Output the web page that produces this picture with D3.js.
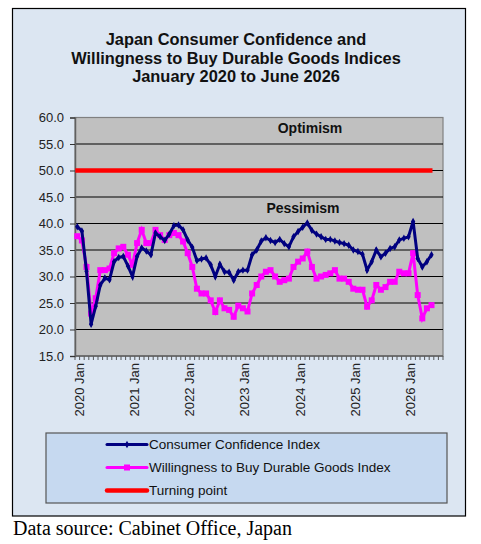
<!DOCTYPE html>
<html>
<head>
<meta charset="utf-8">
<script src="https://cdn.jsdelivr.net/npm/d3@7"></script>
<style>
body { margin: 0; background: #fff; }
</style>
</head>
<body>
<svg width="481" height="544" font-family="Arial, 'Liberation Sans', sans-serif"></svg>
<script>
// months Jan 2020 .. Jun 2026
var confidence = [39.4, 38.6, 31.0, 21.0, 24.4, 28.4, 29.7, 29.4, 32.8, 33.6, 33.8, 32.0,
  30.0, 33.8, 35.4, 34.8, 34.1, 38.2, 37.5, 36.8, 38.0, 39.6, 39.7, 38.8,
  36.9, 35.5, 33.0, 33.3, 33.5, 32.2, 30.0, 32.3, 30.9, 30.8, 29.3, 30.9,
  31.2, 31.2, 34.1, 35.0, 36.7, 37.3, 36.8, 36.4, 37.0, 36.2, 35.6, 37.5,
  38.5, 39.3, 40.1, 38.7, 38.0, 37.5, 37.0, 37.0, 36.7, 36.4, 36.2, 35.9,
  35.0, 34.7, 34.2, 31.2, 32.8, 35.0, 33.7, 34.4, 35.3, 35.6, 36.9, 37.2,
  37.5, 40.4, 33.4, 31.8, 32.8, 34.1];
var durables = [37.6, 36.8, 31.8, 23.0, 25.9, 31.2, 31.2, 31.5, 34.4, 35.3, 35.6, 34.1,
  32.2, 36.3, 38.8, 36.3, 36.3, 38.8, 37.8, 36.9, 37.8, 38.2, 37.8, 36.6,
  34.4, 31.8, 27.7, 26.8, 26.8, 25.5, 23.3, 25.5, 24.0, 23.7, 22.4, 24.5,
  24.0, 23.4, 26.8, 28.4, 30.0, 30.9, 31.2, 30.0, 29.0, 29.3, 29.6, 31.8,
  32.8, 33.4, 34.7, 31.8, 29.6, 30.0, 30.3, 30.6, 31.2, 29.6, 29.6, 29.0,
  27.7, 27.5, 27.5, 24.3, 25.5, 28.4, 27.5, 28.0, 29.0, 29.0, 30.9, 30.6,
  30.6, 34.4, 26.5, 22.1, 24.0, 24.6];
var turningPoint = 50;

var years = [2020, 2021, 2022, 2023, 2024, 2025, 2026];
var monthNames = ["Jan","Feb","Mar","Apr","May","Jun","Jul","Aug","Sep","Oct","Nov","Dec"];
var yTicks = [15, 20, 25, 30, 35, 40, 45, 50, 55, 60];

// category axis runs to Aug 2026
var months = [];
years.forEach(function(yr) {
  monthNames.forEach(function(m) { months.push(yr + " " + m); });
});
months = months.slice(0, 80);

var svg = d3.select("svg");

// outer panel
svg.append("rect")
  .attr("x", 12.5).attr("y", 8.5)
  .attr("width", 453).attr("height", 507.5)
  .attr("fill", "#dce6f2")
  .attr("stroke", "#000").attr("stroke-width", 1.2);

var titleLines = ["Japan Consumer Confidence and",
  "Willingness to Buy Durable Goods Indices",
  "January 2020 to June 2026"];
svg.selectAll(".title")
  .data(titleLines)
  .enter().append("text")
  .attr("x", 236)
  .attr("y", function(d, i) { return 45 + i * 18.5; })
  .attr("text-anchor", "middle")
  .attr("font-size", "16.4px")
  .attr("font-weight", "bold")
  .attr("fill", "#111")
  .text(function(d) { return d; });

var plotLeft = 75, plotRight = 443, plotTop = 117.5, plotBottom = 356;

var x = d3.scaleBand().domain(months).range([plotLeft, plotRight]).padding(0);
var y = d3.scaleLinear().domain([15, 60]).range([plotBottom, plotTop]);
var cx = function(i) { return x(months[i]) + x.bandwidth() / 2; };

svg.append("rect")
  .attr("x", plotLeft).attr("y", plotTop)
  .attr("width", plotRight - plotLeft).attr("height", plotBottom - plotTop)
  .attr("fill", "#c0c0c0")
  .attr("stroke", "#808080").attr("stroke-width", 1.2);

// grid
svg.selectAll(".grid")
  .data(yTicks.slice(1, -1))
  .enter().append("line")
  .attr("x1", plotLeft).attr("x2", plotRight)
  .attr("y1", function(d) { return y(d); })
  .attr("y2", function(d) { return y(d); })
  .attr("stroke", "#000").attr("stroke-width", 1);

// y axis
var yAxis = svg.append("g")
  .attr("transform", "translate(" + plotLeft + ",0)")
  .call(d3.axisLeft(y).tickValues(yTicks).tickFormat(d3.format(".1f")).tickSize(5).tickPadding(6));
yAxis.select(".domain").attr("stroke", "#606060").attr("stroke-width", 1.5);
yAxis.selectAll(".tick line").attr("stroke", "#333");
yAxis.selectAll("text").attr("font-size", "13px").attr("fill", "#222")
  .attr("font-family", "Arial, 'Liberation Sans', sans-serif");

// x axis: minor ticks between every month
svg.selectAll(".xtick")
  .data(months.concat(["end"]))
  .enter().append("line")
  .attr("x1", function(d, i) { return plotLeft + i * x.bandwidth(); })
  .attr("x2", function(d, i) { return plotLeft + i * x.bandwidth(); })
  .attr("y1", plotBottom).attr("y2", plotBottom + 4)
  .attr("stroke", "#333").attr("stroke-width", 0.8);
svg.append("line")
  .attr("x1", plotLeft).attr("x2", plotRight)
  .attr("y1", plotBottom).attr("y2", plotBottom)
  .attr("stroke", "#606060").attr("stroke-width", 1.5);

svg.selectAll(".xlab")
  .data(years)
  .enter().append("text")
  .attr("transform", function(d) {
    return "translate(" + (x(d + " Jan") + x.bandwidth() / 2 + 2) + "," + (plotBottom + 7) + ") rotate(-90)";
  })
  .attr("dy", "0.35em")
  .attr("text-anchor", "end")
  .attr("font-size", "13px")
  .attr("fill", "#222")
  .text(function(d) { return d + " Jan"; });

// turning point
svg.append("line")
  .attr("x1", cx(0) - 2).attr("x2", cx(confidence.length - 1) + 1)
  .attr("y1", y(turningPoint)).attr("y2", y(turningPoint))
  .attr("stroke", "#ff0000").attr("stroke-width", 4.5);

svg.append("text")
  .attr("x", 310).attr("y", 133)
  .attr("text-anchor", "middle")
  .attr("font-size", "14px").attr("font-weight", "bold").attr("fill", "#111")
  .text("Optimism");
svg.append("text")
  .attr("x", 303).attr("y", 213)
  .attr("text-anchor", "middle")
  .attr("font-size", "14px").attr("font-weight", "bold").attr("fill", "#111")
  .text("Pessimism");

var line = d3.line()
  .x(function(d, i) { return cx(i); })
  .y(function(d) { return y(d); });

// durable goods (magenta, square markers)
svg.append("path")
  .datum(durables)
  .attr("fill", "none")
  .attr("stroke", "#ff00ff").attr("stroke-width", 3)
  .attr("d", line);
svg.selectAll(".sq")
  .data(durables)
  .enter().append("rect")
  .attr("x", function(d, i) { return cx(i) - 3; })
  .attr("y", function(d) { return y(d) - 3; })
  .attr("width", 6).attr("height", 6)
  .attr("fill", "#ff00ff");

// consumer confidence (navy, diamond markers)
svg.append("path")
  .datum(confidence)
  .attr("fill", "none")
  .attr("stroke", "#000080").attr("stroke-width", 3)
  .attr("d", line);
svg.selectAll(".dm")
  .data(confidence)
  .enter().append("path")
  .attr("transform", function(d, i) { return "translate(" + cx(i) + "," + y(d) + ")"; })
  .attr("d", d3.symbol().type(d3.symbolDiamond).size(16))
  .attr("fill", "#000080");

// legend
svg.append("rect")
  .attr("x", 46).attr("y", 433)
  .attr("width", 401).attr("height", 70)
  .attr("fill", "#c6d9f0")
  .attr("stroke", "#555").attr("stroke-width", 1.2);

var legendItems = [
  { name: "Consumer Confidence Index", color: "#000080", w: 3 },
  { name: "Willingness to Buy Durable Goods Index", color: "#ff00ff", w: 3 },
  { name: "Turning point", color: "#ff0000", w: 4.5 }
];
var lg = svg.selectAll(".lg")
  .data(legendItems)
  .enter().append("g")
  .attr("transform", function(d, i) { return "translate(0," + (444.5 + i * 23) + ")"; });
lg.append("line")
  .attr("x1", 107).attr("x2", 147)
  .attr("stroke", function(d) { return d.color; })
  .attr("stroke-width", function(d) { return d.w; })
  .attr("stroke-linecap", "round");
lg.filter(function(d, i) { return i == 1; }).append("rect")
  .attr("x", 124).attr("y", -3).attr("width", 6).attr("height", 6)
  .attr("fill", "#ff00ff");
lg.filter(function(d, i) { return i == 0; }).append("path")
  .attr("transform", "translate(127,0)")
  .attr("d", d3.symbol().type(d3.symbolDiamond).size(16))
  .attr("fill", "#000080");
lg.append("text")
  .attr("x", 149).attr("dy", "0.35em")
  .attr("font-size", "13.5px").attr("fill", "#111")
  .text(function(d) { return d.name; });

svg.append("text")
  .attr("x", 13).attr("y", 535)
  .attr("font-family", "'Liberation Serif', 'Times New Roman', serif")
  .attr("font-size", "20px").attr("fill", "#000")
  .text("Data source: Cabinet Office, Japan");
</script>
</body>
</html>
